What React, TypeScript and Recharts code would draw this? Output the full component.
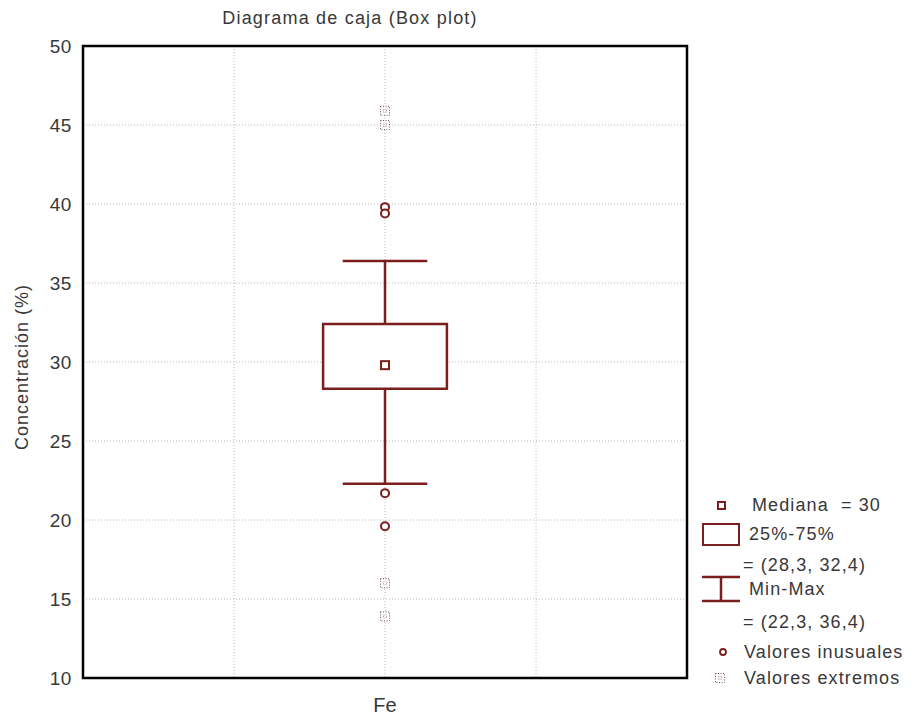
import React from "react";
import {
  CartesianGrid,
  ComposedChart,
  ReferenceArea,
  ReferenceLine,
  Scatter,
  XAxis,
  YAxis,
} from "recharts";

const MAROON = "#7a1e1e";
const TEXT = "#383838";
const FONT = "'Liberation Sans', Arial, sans-serif";

const categories = ["Fe"];
const categoryPos = [2];
const median = [29.8];
const quartiles = [28.3, 32.4];
const minMax = [22.3, 36.4];
const unusual = [39.8, 39.4, 21.7, 19.6];
const extremes = [45.9, 45.0, 16.0, 13.9];
const yTicks = [10, 15, 20, 25, 30, 35, 40, 45, 50];
const xTicks = [1, 2, 3];
const xDomain = [0, 4];
const yDomain = [10, 50];

const BOX_HALF = 0.41;
const CAP_HALF = 0.28;

const medianPts = median.map((y, i) => ({ x: categoryPos[i], y }));
const unusualPts = unusual.map((y) => ({ x: categoryPos[0], y }));
const extremePts = extremes.map((y) => ({ x: categoryPos[0], y }));

function MedianShape(props: any) {
  const { cx, cy } = props;
  return <rect x={cx - 4} y={cy - 4} width={8} height={8} fill="#fff" stroke={MAROON} strokeWidth={2} />;
}

function UnusualShape(props: any) {
  const { cx, cy } = props;
  return <circle cx={cx} cy={cy} r={4} fill="#fff" stroke={MAROON} strokeWidth={2} />;
}

function ExtremeShape(props: any) {
  const { cx, cy } = props;
  return (
    <g>
      <rect x={cx - 4.5} y={cy - 4.5} width={9} height={9} fill="#fff" stroke="#7a5050" strokeWidth={1} strokeDasharray="1 1.5" />
      <rect x={cx - 1.5} y={cy - 1.5} width={3} height={3} fill="none" stroke="#a08080" strokeWidth={0.8} strokeDasharray="1 1" />
    </g>
  );
}

const xTickFmt = (v: number) => {
  const i = categoryPos.indexOf(v);
  return i >= 0 ? categories[i] : "";
};

function Overlay() {
  const row: React.CSSProperties = {
    position: "absolute",
    fontSize: 18,
    letterSpacing: 1.1,
    color: TEXT,
    whiteSpace: "nowrap",
    lineHeight: "20px",
  };
  return (
    <div style={{ position: "absolute", left: 0, top: 0, width: 918, height: 717, pointerEvents: "none", fontFamily: FONT }}>
      <svg width={918} height={717} style={{ position: "absolute", left: 0, top: 0 }}>
        <rect x={718} y={502} width={7} height={7} fill="#fff" stroke={MAROON} strokeWidth={2} />
        <rect x={703} y={524} width={36} height={21} fill="#fff" stroke={MAROON} strokeWidth={2} />
        <line x1={702} y1={577} x2={740} y2={577} stroke={MAROON} strokeWidth={2.5} />
        <line x1={721} y1={577} x2={721} y2={601} stroke={MAROON} strokeWidth={2.5} />
        <line x1={702} y1={601} x2={740} y2={601} stroke={MAROON} strokeWidth={2.5} />
        <circle cx={723} cy={652} r={3} fill="#fff" stroke={MAROON} strokeWidth={1.8} />
        <ExtremeShape cx={720} cy={678} />
        <text
          x={0}
          y={0}
          transform="translate(28 367) rotate(-90)"
          textAnchor="middle"
          fontSize={18}
          letterSpacing={1}
          fill={TEXT}
          fontFamily={FONT}
        >
          Concentración (%)
        </text>
      </svg>
      <div style={{ ...row, left: 752, top: 495 }}>Mediana&nbsp; = 30</div>
      <div style={{ ...row, left: 749, top: 524 }}>25%-75%</div>
      <div style={{ ...row, left: 743, top: 555 }}>= (28,3, 32,4)</div>
      <div style={{ ...row, left: 749, top: 579 }}>Min-Max</div>
      <div style={{ ...row, left: 743, top: 612 }}>= (22,3, 36,4)</div>
      <div style={{ ...row, left: 744, top: 642 }}>Valores inusuales</div>
      <div style={{ ...row, left: 744, top: 668 }}>Valores extremos</div>
      <div style={{ ...row, left: 220, width: 260, textAlign: "center", top: 8, letterSpacing: 1.2 }}>
        Diagrama de caja (Box plot)
      </div>
    </div>
  );
}

export default function App() {
  return (
    <div style={{ position: "absolute", left: 0, top: 0, width: 918, height: 717, background: "#fff" }}>
      <ComposedChart
        width={918}
        height={717}
        margin={{ top: 46, right: 231, bottom: 9, left: 8 }}
        style={{ fontFamily: FONT }}
      >
        <CartesianGrid xAxisId="b" yAxisId="l" stroke="#b8b8b8" strokeDasharray="1 2" />
        <XAxis
          xAxisId="b"
          type="number"
          dataKey="x"
          domain={xDomain}
          ticks={xTicks}
          tickFormatter={xTickFmt}
          height={30}
          axisLine={false}
          tickLine={false}
          tickMargin={14}
          tick={{ fill: TEXT, fontSize: 20 }}
        />
        <YAxis
          yAxisId="l"
          type="number"
          domain={yDomain}
          ticks={yTicks}
          width={75}
          axisLine={false}
          tickLine={false}
          tickMargin={5}
          tick={{ fill: TEXT, fontSize: 19, letterSpacing: 0.6 }}
        />
        <ReferenceArea
          xAxisId="b"
          yAxisId="l"
          x1={xDomain[0]}
          x2={xDomain[1]}
          y1={yDomain[0]}
          y2={yDomain[1]}
          fill="none"
          stroke="#000"
          strokeWidth={2.5}
        />
        <ReferenceLine
          xAxisId="b"
          yAxisId="l"
          segment={[{ x: categoryPos[0], y: quartiles[1] }, { x: categoryPos[0], y: minMax[1] }]}
          stroke={MAROON}
          strokeWidth={2.5}
        />
        <ReferenceLine
          xAxisId="b"
          yAxisId="l"
          segment={[{ x: categoryPos[0], y: minMax[0] }, { x: categoryPos[0], y: quartiles[0] }]}
          stroke={MAROON}
          strokeWidth={2.5}
        />
        <ReferenceLine
          xAxisId="b"
          yAxisId="l"
          segment={[{ x: categoryPos[0] - CAP_HALF, y: minMax[1] }, { x: categoryPos[0] + CAP_HALF, y: minMax[1] }]}
          stroke={MAROON}
          strokeWidth={2.5}
        />
        <ReferenceLine
          xAxisId="b"
          yAxisId="l"
          segment={[{ x: categoryPos[0] - CAP_HALF, y: minMax[0] }, { x: categoryPos[0] + CAP_HALF, y: minMax[0] }]}
          stroke={MAROON}
          strokeWidth={2.5}
        />
        <ReferenceArea
          xAxisId="b"
          yAxisId="l"
          x1={categoryPos[0] - BOX_HALF}
          x2={categoryPos[0] + BOX_HALF}
          y1={quartiles[0]}
          y2={quartiles[1]}
          fill="#fff"
          fillOpacity={1}
          stroke={MAROON}
          strokeWidth={2.5}
        />
        <Scatter xAxisId="b" yAxisId="l" data={extremePts} dataKey="y" shape={ExtremeShape} isAnimationActive={false} />
        <Scatter xAxisId="b" yAxisId="l" data={unusualPts} dataKey="y" shape={UnusualShape} isAnimationActive={false} />
        <Scatter xAxisId="b" yAxisId="l" data={medianPts} dataKey="y" shape={MedianShape} isAnimationActive={false} />
      </ComposedChart>
      <Overlay />
    </div>
  );
}
